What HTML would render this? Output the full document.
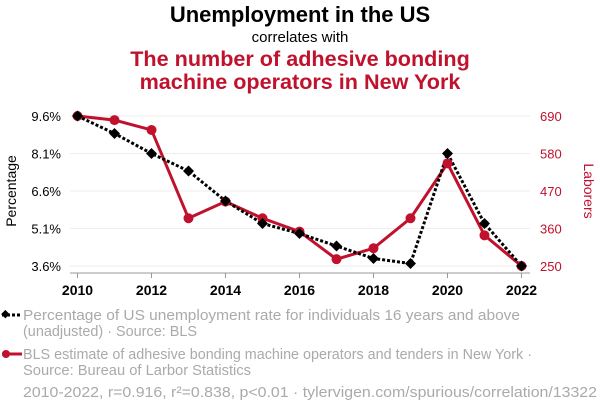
<!DOCTYPE html>
<html><head><meta charset="utf-8"><style>
html,body{margin:0;padding:0;background:#fff;width:600px;height:414px;overflow:hidden;font-family:"Liberation Sans",Arial,sans-serif}
</style></head><body>
<svg id="chart" width="600" height="414" xmlns="http://www.w3.org/2000/svg" font-family="Liberation Sans, Arial, sans-serif">
<text x="300" y="22" text-anchor="middle" font-size="22" font-weight="bold" fill="#000">Unemployment in the US</text>
<text x="300" y="42" text-anchor="middle" font-size="15" fill="#000">correlates with</text>
<text x="300" y="66" text-anchor="middle" font-size="21.6" font-weight="bold" fill="#c0122d">The number of adhesive bonding</text>
<text x="300" y="89" text-anchor="middle" font-size="21.6" font-weight="bold" fill="#c0122d">machine operators in New York</text>
<g id="grid"></g><g id="axes"></g><g id="marks"></g>
<text transform="translate(16,191) rotate(-90)" text-anchor="middle" font-size="14" fill="#000">Percentage</text>
<text transform="translate(584,191) rotate(90)" text-anchor="middle" font-size="14" fill="#c0122d">Laborers</text>
<g>
<line x1="2" y1="315" x2="22" y2="315" stroke="#000" stroke-width="3" stroke-dasharray="3,2"/>
<rect x="2" y="311" width="6" height="6" transform="rotate(45 5 314.5)" fill="#000"/>
<text x="23" y="320" font-size="15" fill="#aaa" textLength="497" lengthAdjust="spacingAndGlyphs">Percentage of US unemployment rate for individuals 16 years and above</text>
<text x="23" y="336" font-size="15" fill="#aaa" textLength="174" lengthAdjust="spacingAndGlyphs">(unadjusted) · Source: BLS</text>
</g>
<g>
<line x1="2" y1="354" x2="22" y2="354" stroke="#c0122d" stroke-width="3"/>
<circle cx="6" cy="354" r="4" fill="#c0122d"/>
<text x="23" y="359" font-size="15" fill="#aaa" textLength="509" lengthAdjust="spacingAndGlyphs">BLS estimate of adhesive bonding machine operators and tenders in New York ·</text>
<text x="23" y="375" font-size="15" fill="#aaa" textLength="228" lengthAdjust="spacingAndGlyphs">Source: Bureau of Larbor Statistics</text>
</g>
<text x="23" y="397" font-size="15" fill="#aaa" textLength="574" lengthAdjust="spacingAndGlyphs">2010-2022, r=0.916, r²=0.838, p&lt;0.01 · tylervigen.com/spurious/correlation/13322</text>
</svg>
<script>
const years=[2010,2011,2012,2013,2014,2015,2016,2017,2018,2019,2020,2021,2022];
const unemployment=[9.6,8.9,8.1,7.4,6.2,5.3,4.9,4.4,3.9,3.7,8.1,5.3,3.6];
const laborers=[690,678,649,390,439,390,351,270,302,390,551,340,250];
const leftTicks=[3.6,5.1,6.6,8.1,9.6];
const rightTicks=[250,360,470,580,690];
const xTicks=[2010,2012,2014,2016,2018,2020,2022];
const NS='http://www.w3.org/2000/svg';
const X0=77.5,X1=521.5,Y0=266,Y1=116;
const x=v=>X0+(v-2010)/(2022-2010)*(X1-X0);
const yL=v=>Y0+(v-3.6)/(9.6-3.6)*(Y1-Y0);
const yR=v=>Y0+(v-250)/(690-250)*(Y1-Y0);
function mk(t,a,p){const e=document.createElementNS(NS,t);for(const k in a)e.setAttribute(k,a[k]);p.appendChild(e);return e;}
const grid=document.getElementById('grid'),axes=document.getElementById('axes'),marks=document.getElementById('marks');
leftTicks.forEach((v,i)=>{
 const g=mk('line',{x1:70,x2:530,y1:yL(v),y2:yL(v),stroke:'#eee','stroke-width':1},grid);
 
 
 const t=mk('text',{x:61,y:yL(v)+5,'text-anchor':'end','font-size':13,fill:'#000'},axes);
 t.textContent=v.toFixed(1)+'%';
 
 
 const r=mk('text',{x:540,y:yR(rightTicks[i])+5,'font-size':13,fill:'#c0122d'},axes);
 r.textContent=rightTicks[i];
 
 
});
const ax=mk('line',{x1:70,x2:530,y1:273,y2:273,stroke:'#999','stroke-width':1},axes);


xTicks.forEach(v=>{
 mk('line',{x1:x(v),x2:x(v),y1:273,y2:278,stroke:'#999'},axes);
 const t=mk('text',{x:x(v),y:295,'text-anchor':'middle','font-size':14,'font-weight':'bold',fill:'#000'},axes);
 t.textContent=v;
 
 
});
const lp=mk('polyline',{points:years.map((yr,i)=>x(yr)+','+yR(laborers[i])).join(' '),fill:'none',stroke:'#c0122d','stroke-width':3},marks);


const up=mk('polyline',{points:years.map((yr,i)=>x(yr)+','+yL(unemployment[i])).join(' '),fill:'none',stroke:'#000','stroke-width':3,'stroke-dasharray':'3,2'},marks);


years.forEach((yr,i)=>{
 const c=mk('circle',{cx:x(yr),cy:yR(laborers[i]),r:5,fill:'#c0122d'},marks);
 
 
});
years.forEach((yr,i)=>{
 const cx=x(yr),cy=yL(unemployment[i]);
 const d=mk('polygon',{points:`${cx},${cy-5.5} ${cx+5.5},${cy} ${cx},${cy+5.5} ${cx-5.5},${cy}`,fill:'#000'},marks);
 
 
});
</script>
</body></html>
